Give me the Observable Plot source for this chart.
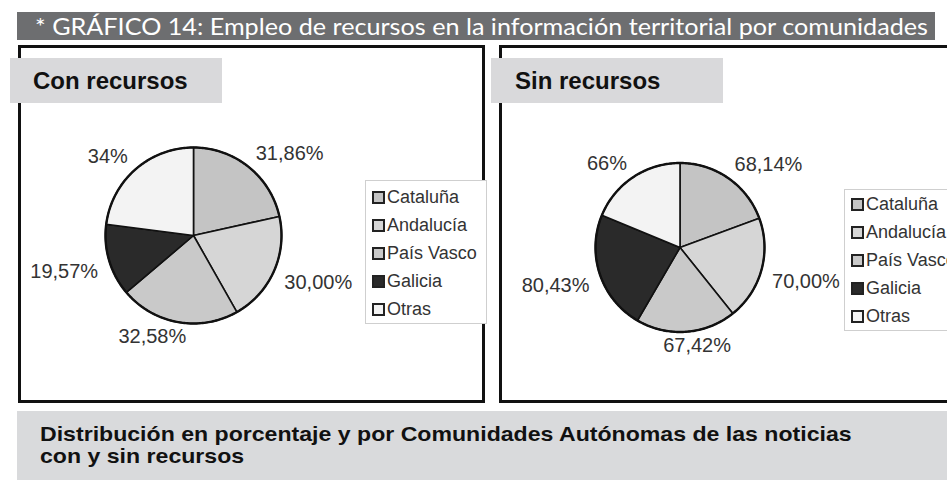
<!DOCTYPE html>
<html><head><meta charset="utf-8">
<script src="https://cdn.jsdelivr.net/npm/d3@7"></script>
<script src="https://cdn.jsdelivr.net/npm/@observablehq/plot@0.6"></script>
<style>
body{margin:0;width:947px;height:480px;position:relative;overflow:hidden;background:#fff;font-family:"Liberation Sans",Arial,sans-serif;}
.abs{position:absolute;}
.bar{left:17px;top:12px;width:918px;height:28px;background:#6d6e70;}
.panel{top:45px;height:358px;border:3px solid #111;box-sizing:border-box;}
.head{top:58px;height:45px;background:#d9d9db;z-index:3;font-weight:bold;font-size:24px;line-height:24px;color:#111;box-sizing:border-box;padding-top:11px;}
.legend{background:#fff;border:1px solid #cfcfcf;box-sizing:border-box;z-index:1;font-size:18px;color:#333;}
.legend .row{height:27.8px;display:flex;align-items:center;white-space:nowrap;}
.legend .sw{width:13px;height:13px;border:2px solid #222;box-sizing:border-box;margin-left:6px;margin-right:2px;flex:none;}
.caption{left:17px;top:411px;width:930px;height:69px;background:#d9dadc;box-sizing:border-box;padding:12px 0 0 23px;}
.caption div{font-weight:bold;font-size:21px;line-height:22px;color:#111;transform:scaleX(1.1);transform-origin:0 0;white-space:nowrap;}
.chart{z-index:2;}
</style></head><body>
<script>
// ---- datos ----
const titulo = "* GRÁFICO 14: Empleo de recursos en la información territorial por comunidades";
const paneles = ["Con recursos", "Sin recursos"];
const comunidades = ["Cataluña", "Andalucía", "País Vasco", "Galicia", "Otras"];
const conRecursos = [31.86, 30.00, 32.58, 19.57, 34];
const sinRecursos = [68.14, 70.00, 67.42, 80.43, 66];
const etiquetasCon = ["31,86%", "30,00%", "32,58%", "19,57%", "34%"];
const etiquetasSin = ["68,14%", "70,00%", "67,42%", "80,43%", "66%"];
const pieLineas = ["Distribución en porcentaje y por Comunidades Autónomas de las noticias", "con y sin recursos"];
const grises = ["#c4c4c4", "#d6d6d6", "#c9c9c9", "#2a2a2a", "#f3f3f3"];

// ---- construcción ----
const body = document.body;
function el(cls, style, html) {
  const d = document.createElement("div");
  d.className = "abs " + cls;
  Object.assign(d.style, style || {});
  if (html != null) d.innerHTML = html;
  body.appendChild(d);
  return d;
}

const bar = el("bar");
bar.innerHTML = `<svg width="918" height="28"><text x="18" y="23" font-size="24" fill="#fff" font-family="Lato, 'Open Sans', sans-serif" textLength="893" lengthAdjust="spacingAndGlyphs">${titulo}</text></svg>`;

el("panel", {left: "18px", width: "467px"});
el("panel", {left: "499px", width: "500px"});
el("head", {left: "10px", width: "212px", paddingLeft: "23px"}, paneles[0]);
el("head", {left: "491px", width: "232px", paddingLeft: "24px"}, paneles[1]);

const ctx = document.createElement("canvas").getContext("2d");
ctx.font = "20px 'Liberation Sans', Arial, sans-serif";

function slices(values, etiquetas, r) {
  const total = d3.sum(values);
  let acc = 0;
  const polys = [], labels = [];
  values.forEach((v, i) => {
    const a0 = acc / total * 2 * Math.PI; acc += v;
    const a1 = acc / total * 2 * Math.PI;
    const n = Math.max(2, Math.ceil((a1 - a0) / (Math.PI / 180)));
    polys.push({c: comunidades[i], x: 0, y: 0});
    for (let k = 0; k <= n; k++) {
      const a = a0 + (a1 - a0) * k / n;
      polys.push({c: comunidades[i], x: Math.sin(a), y: Math.cos(a)});
    }
    polys.push({c: comunidades[i], x: 0, y: 0});
    const m = (a0 + a1) / 2, s = Math.sin(m), c = Math.cos(m);
    const hw = ctx.measureText(etiquetas[i]).width / 2 / r;
    const hh = 10 / r;
    labels.push({
      x: 1.13 * s + hw * Math.sign(s) * Math.min(1, Math.abs(s) * 4),
      y: 1.05 * c + hh * Math.sign(c) * Math.min(1, Math.abs(c) * 4),
      t: etiquetas[i]
    });
  });
  const circle = d3.range(0, 361).map(d => ({x: Math.sin(d * Math.PI / 180), y: Math.cos(d * Math.PI / 180)}));
  return {polys, labels, circle};
}

function piePlot(values, etiquetas, cx, cy, r, w, h) {
  const {polys, labels, circle} = slices(values, etiquetas, r);
  return Plot.plot({
    width: w, height: h, margin: 0,
    style: {fontFamily: "'Liberation Sans', Arial, sans-serif", background: "transparent", overflow: "visible"},
    x: {domain: [-cx / r, (w - cx) / r], axis: null},
    y: {domain: [-(h - cy) / r, cy / r], axis: null},
    color: {domain: comunidades, range: grises},
    marks: [
      Plot.line(polys, {x: "x", y: "y", z: "c", fill: "c", stroke: "#111", strokeWidth: 1.6, strokeLinejoin: "round"}),
      Plot.line(circle, {x: "x", y: "y", stroke: "#111", strokeWidth: 2.4}),
      Plot.text(labels, {x: "x", y: "y", text: "t", fontSize: 20, fill: "#333"})
    ]
  });
}

const c1 = el("chart", {left: "20px", top: "110px"});
c1.appendChild(piePlot(conRecursos, etiquetasCon, 173, 125, 88, 340, 290));
const c2 = el("chart", {left: "503px", top: "110px"});
c2.appendChild(piePlot(sinRecursos, etiquetasSin, 176.5, 137, 84.5, 350, 290));

function legend(left, top, width, padTop) {
  const L = el("legend", {left: left + "px", top: top + "px", width: width + "px", paddingTop: padTop + "px", height: (padTop + 5 * 27.8 + 2) + "px"});
  comunidades.forEach((c, i) => {
    const row = document.createElement("div");
    row.className = "row";
    row.innerHTML = `<span class="sw" style="background:${grises[i]}"></span><span>${c}</span>`;
    L.appendChild(row);
  });
}
legend(365, 180, 122, 3);
legend(844, 189, 120, 1);

const cap = el("caption");
pieLineas.forEach(l => { const d = document.createElement("div"); d.textContent = l; cap.appendChild(d); });
</script>
</body></html>
